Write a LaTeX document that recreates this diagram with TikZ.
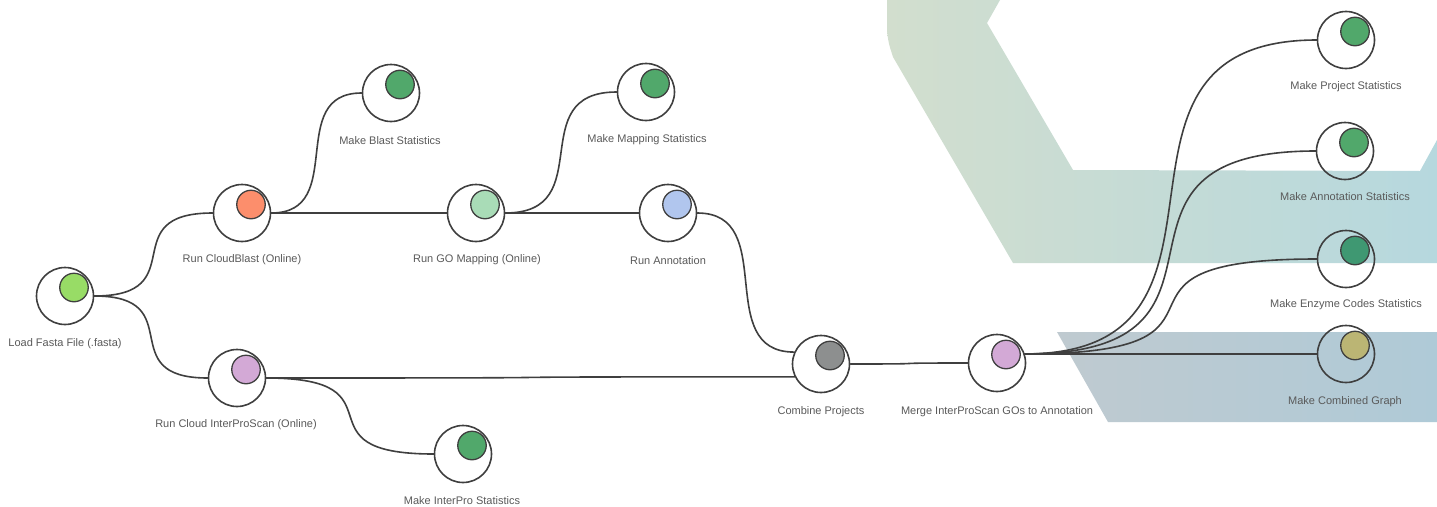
\documentclass[tikz,border=0pt]{standalone}
\usepackage{fontspec}
\setmainfont{Liberation Sans}
\usetikzlibrary{calc,positioning}
\definecolor{flowInk}{HTML}{3F3F3F}
\definecolor{flowText}{HTML}{5A5A5A}
\definecolor{bandGreen}{HTML}{D2DECE}
\definecolor{bandBlue}{HTML}{B6D8DE}
\definecolor{bandSlate}{HTML}{BFCAD0}
\definecolor{bandSky}{HTML}{AFCAD7}
\definecolor{dotLime}{HTML}{98DC66}
\definecolor{dotSalmon}{HTML}{FC8E6C}
\definecolor{dotMint}{HTML}{A9DCB7}
\definecolor{dotSky}{HTML}{B1C6EE}
\definecolor{dotLilac}{HTML}{D3A9D6}
\definecolor{dotGrey}{HTML}{8D8F8F}
\definecolor{dotGreen}{HTML}{51A86B}
\definecolor{dotTeal}{HTML}{3F9872}
\definecolor{dotOlive}{HTML}{BBB574}

\begin{document}
\begin{tikzpicture}[x=1pt,y=-1pt,line cap=round,line join=round]
\path[fill=white] (0,0) rectangle (1437,506);
% watermark bands behind the flow
\shade[left color=bandGreen,right color=bandBlue] (887,0) -- (1000,0) -- (987,23) -- (1073,170) -- (1420,171) -- (1437,140) -- (1437,263) -- (1013,263) -- (893,57) [rounded corners=10pt] -- (887,38) [sharp corners] -- cycle;
\shade[left color=bandSlate,right color=bandSky] (1057,332) -- (1437,332) -- (1437,422) -- (1108,422) -- cycle;
\tikzset{stepnode/.style={circle,draw=flowInk,line width=1.6pt,minimum size=57pt,inner sep=0pt},dot/.style={circle,draw=flowInk,line width=1.3pt,minimum size=28.5pt,inner sep=0pt},lbl/.style={text=flowText,font=\fontsize{11}{13}\selectfont,inner sep=0pt},link/.style={draw=flowInk,line width=1.6pt},flow/.style={to path={let \p1=(\tikztostart),\p2=(\tikztotarget) in .. controls ({\x1+0.85*(\x2-\x1)},\y1) and ({\x2-0.85*(\x2-\x1)},\y2) .. (\tikztotarget)}}}
% steps
\node[stepnode] (load) at (65,296) {};
\node[dot,fill=dotLime] (loadd) at ($(load)+(9,-8.5)$) {};
\node[lbl] (loadl) at (65,344) {Load Fasta File (.fasta)};
\node[stepnode] (blast) at (242,213) {};
\node[dot,fill=dotSalmon] (blastd) at ($(blast)+(9,-8.5)$) {};
\node[lbl] (blastl) at (242,260) {Run CloudBlast (Online)};
\node[stepnode] (ipr) at (237,378) {};
\node[dot,fill=dotLilac] (iprd) at ($(ipr)+(9,-8.5)$) {};
\node[lbl] (iprl) at (236,425) {Run Cloud InterProScan (Online)};
\node[stepnode] (bstat) at (391,93) {};
\node[dot,fill=dotGreen] (bstatd) at ($(bstat)+(9,-8.5)$) {};
\node[lbl] (bstatl) at (390,141) {Make Blast Statistics};
\node[stepnode] (gomap) at (476,213) {};
\node[dot,fill=dotMint] (gomapd) at ($(gomap)+(9,-8.5)$) {};
\node[lbl] (gomapl) at (477,260) {Run GO Mapping (Online)};
\node[stepnode] (mstat) at (646,92) {};
\node[dot,fill=dotGreen] (mstatd) at ($(mstat)+(9,-8.5)$) {};
\node[lbl] (mstatl) at (647,140) {Make Mapping Statistics};
\node[stepnode] (annot) at (668,213) {};
\node[dot,fill=dotSky] (annotd) at ($(annot)+(9,-8.5)$) {};
\node[lbl] (annotl) at (668,261) {Run Annotation};
\node[stepnode] (istat) at (463,454) {};
\node[dot,fill=dotGreen] (istatd) at ($(istat)+(9,-8.5)$) {};
\node[lbl] (istatl) at (462,501) {Make InterPro Statistics};
\node[stepnode] (comb) at (821,364) {};
\node[dot,fill=dotGrey] (combd) at ($(comb)+(9,-8.5)$) {};
\node[lbl] (combl) at (821,412) {Combine Projects};
\node[stepnode] (merge) at (997,363) {};
\node[dot,fill=dotLilac] (merged) at ($(merge)+(9,-8.5)$) {};
\node[lbl] (mergel) at (997,412) {Merge InterProScan GOs to Annotation};
\node[stepnode] (pstat) at (1346,40) {};
\node[dot,fill=dotGreen] (pstatd) at ($(pstat)+(9,-8.5)$) {};
\node[lbl] (pstatl) at (1346,87) {Make Project Statistics};
\node[stepnode] (astat) at (1345,151) {};
\node[dot,fill=dotGreen] (astatd) at ($(astat)+(9,-8.5)$) {};
\node[lbl] (astatl) at (1345,197) {Make Annotation Statistics};
\node[stepnode] (estat) at (1346,259) {};
\node[dot,fill=dotTeal] (estatd) at ($(estat)+(9,-8.5)$) {};
\node[lbl] (estatl) at (1346,305) {Make Enzyme Codes Statistics};
\node[stepnode] (graph) at (1346,354) {};
\node[dot,fill=dotOlive] (graphd) at ($(graph)+(9,-8.5)$) {};
\node[lbl] (graphl) at (1345,402) {Make Combined Graph};
% links
\draw[link] (load.east) to[flow] (blast.west);
\draw[link] (load.east) to[flow] (ipr.west);
\draw[link] (blast.east) to[flow] (bstat.west);
\draw[link] (blast.east) to[flow] (gomap.west);
\draw[link] (gomap.east) to[flow] (mstat.west);
\draw[link] (gomap.east) to[flow] (annot.west);
\draw[link] (annot.east) to[flow] (comb.156);
\draw[link] (ipr.east) to[flow] (comb.206);
\draw[link] (ipr.east) to[flow] (istat.west);
\draw[link] (comb.east) to[flow] (merge.west);
\draw[link] (merge.18) to[flow] (pstat.west);
\draw[link] (merge.18) to[flow] (astat.west);
\draw[link] (merge.18) to[flow] (estat.west);
\draw[link] (merge.18) to[flow] (graph.west);
\end{tikzpicture}
\end{document}
